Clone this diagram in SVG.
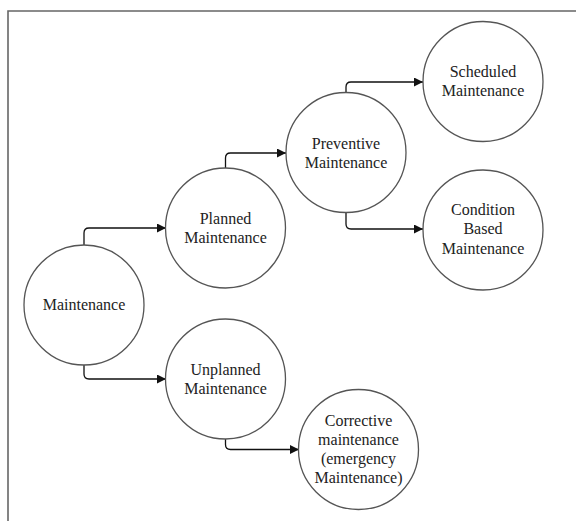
<svg xmlns="http://www.w3.org/2000/svg" width="576" height="522" viewBox="0 0 576 522">
<style>
.node circle{fill:#fff;stroke:#555;stroke-width:1.3}
.node text{font-family:'Liberation Serif','Times New Roman','DejaVu Serif',serif;font-size:16px;fill:#222;text-anchor:middle}
.conn path{fill:none;stroke:#111;stroke-width:1.3;marker-end:url(#arr)}
</style>
<defs>
<marker id="arr" viewBox="0 0 10 10" refX="10" refY="5" markerWidth="10" markerHeight="9" markerUnits="userSpaceOnUse" orient="auto">
<path d="M0,0 L10,5 L0,10 Z" fill="#111"/>
</marker>
</defs>
<rect width="576" height="522" fill="#fff"/>
<path d="M8,521 V11 H576" fill="none" stroke="#666" stroke-width="1.6"/>
<g class="conn">
<path d="M84,245 V233 Q84,228 89,228 H166"/>
<path d="M84,365 V374 Q84,379 89,379 H166"/>
<path d="M225.5,168 V158 Q225.5,153 230.5,153 H286"/>
<path d="M346,93 V87 Q346,82 351,82 H423"/>
<path d="M346,212 V224 Q346,229 351,229 H423"/>
<path d="M225.5,439 V444.5 Q225.5,449.5 230.5,449.5 H299"/>
</g>
<g id="maintenance" class="node"><circle cx="84" cy="305" r="60"/><text x="84" y="310" font-family="Liberation Serif, serif">Maintenance</text></g>
<g id="planned" class="node"><circle cx="225.5" cy="228" r="60"/><text x="225.5" y="224">Planned</text><text x="225.5" y="243">Maintenance</text></g>
<g id="unplanned" class="node"><circle cx="225.5" cy="379" r="60"/><text x="225.5" y="375">Unplanned</text><text x="225.5" y="394">Maintenance</text></g>
<g id="preventive" class="node"><circle cx="346" cy="152.5" r="60"/><text x="346" y="149">Preventive</text><text x="346" y="168">Maintenance</text></g>
<g id="scheduled" class="node"><circle cx="483" cy="81.5" r="60"/><text x="483" y="77">Scheduled</text><text x="483" y="96">Maintenance</text></g>
<g id="condition" class="node"><circle cx="483" cy="230" r="60"/><text x="483" y="215">Condition</text><text x="483" y="234">Based</text><text x="483" y="254">Maintenance</text></g>
<g id="corrective" class="node"><circle cx="358.5" cy="449.5" r="60"/><text x="358.5" y="426">Corrective</text><text x="358.5" y="445">maintenance</text><text x="358.5" y="464">(emergency</text><text x="358.5" y="483">Maintenance)</text></g>
</svg>
